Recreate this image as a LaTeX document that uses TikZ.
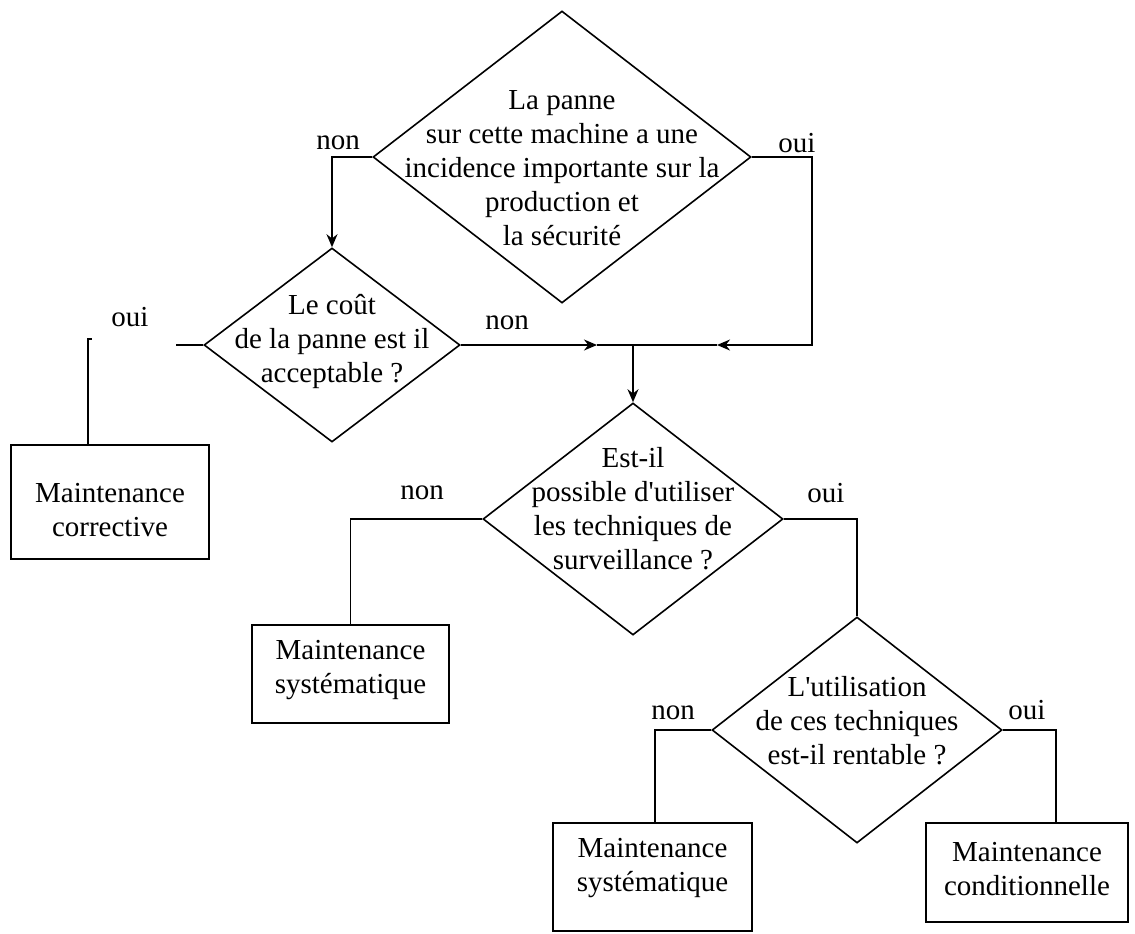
\documentclass[tikz,border=0pt]{standalone}
\usepackage{fontspec}
\setmainfont{Liberation Serif}[Ligatures=TeXOff]
\usetikzlibrary{shapes.geometric,arrows.meta}
\begin{document}
\begin{tikzpicture}[x=0.5pt,y=-0.5pt,
  every node/.style={font=\fontsize{14.5pt}{17pt}\selectfont},
  dec/.style={diamond,draw,inner sep=0pt,line width=0.8pt},
  boxx/.style={rectangle,draw,inner sep=0pt,line width=0.8pt},
  txt/.style={align=center,inner sep=0pt},
  lab/.style={inner sep=0pt},
  conn/.style={line width=0.8pt},
  arr/.style={conn,-{Stealth[length=6.5pt,width=5.5pt]}}]
\useasboundingbox (0,0) rectangle (1135,933);
% decisions
\node[dec,minimum width=189pt,minimum height=146pt] (d1) at (562,157) {};
\node[txt] (t1) at (562,168) {La panne\\sur cette machine a une\\incidence importante sur la\\production et\\la sécurité};
\node[dec,minimum width=128pt,minimum height=97pt] (d2) at (332,345) {};
\node[txt] (t2) at (332,341) {Le coût\\de la panne est il\\acceptable ?};
\node[dec,minimum width=150pt,minimum height=116pt] (d3) at (633,519) {};
\node[txt] (t3) at (633,509) {Est-il\\possible d'utiliser\\les techniques de\\surveillance ?};
\node[dec,minimum width=145pt,minimum height=113pt] (d4) at (857,730) {};
\node[txt] (t4) at (857,721) {L'utilisation\\de ces techniques\\est-il rentable ?};
% boxes
\node[boxx,minimum width=99pt,minimum height=57pt] (corr) at (110,502) {};
\node[txt] (tc) at (110,510) {Maintenance\\corrective};
\node[boxx,minimum width=98.5pt,minimum height=49pt] (sys1) at (350.5,674) {};
\node[txt] (ts1) at (350.5,670) {Maintenance\\systématique};
\node[boxx,minimum width=99.5pt,minimum height=54pt] (sys2) at (652.5,877) {};
\node[txt] (ts2) at (652.5,868) {Maintenance\\systématique};
\node[boxx,minimum width=101pt,minimum height=49.5pt] (cond) at (1027,872.5) {};
\node[txt] (tcd) at (1027,869) {Maintenance\\conditionnelle};
% labels
\node[lab] (l1n) at (338,143) {non};
\node[lab] (l1o) at (797,143) {oui};
\node[lab] (l2o) at (130,317) {oui};
\node[lab] (l2n) at (507,323) {non};
\node[lab] (l3n) at (422,493) {non};
\node[lab] (l3o) at (826,493) {oui};
\node[lab] (l4n) at (673,713) {non};
\node[lab] (l4o) at (1027,710) {oui};
% helper coordinates
\coordinate (rc) at (812,345);
\coordinate (aL) at (717,345);
\coordinate (aR) at (597,345);
\coordinate (jn) at (633,345);
\coordinate (stub) at (176,345);
\coordinate (ctop) at (88,339);
% connectors
\draw[arr] (d1.west) -| (d2.north);
\draw[arr] (d1.east) -| (rc) -- (aL);
\draw[arr] (d2.east) -- (aR);
\draw[conn] (aR) -- (aL);
\draw[arr] (jn) -- (d3.north);
\draw[conn] (d2.west) -- (stub);
\draw[conn] (corr.north -| ctop) -- (ctop) -- ++(4,0);
\draw[conn] (d3.west) -| (sys1.north);
\draw[conn] (d3.east) -| (d4.north);
\draw[conn] (d4.west) -| ([xshift=1.25pt]sys2.north);
\draw[conn] (d4.east) -| ([xshift=14.5pt]cond.north);
\end{tikzpicture}
\end{document}
